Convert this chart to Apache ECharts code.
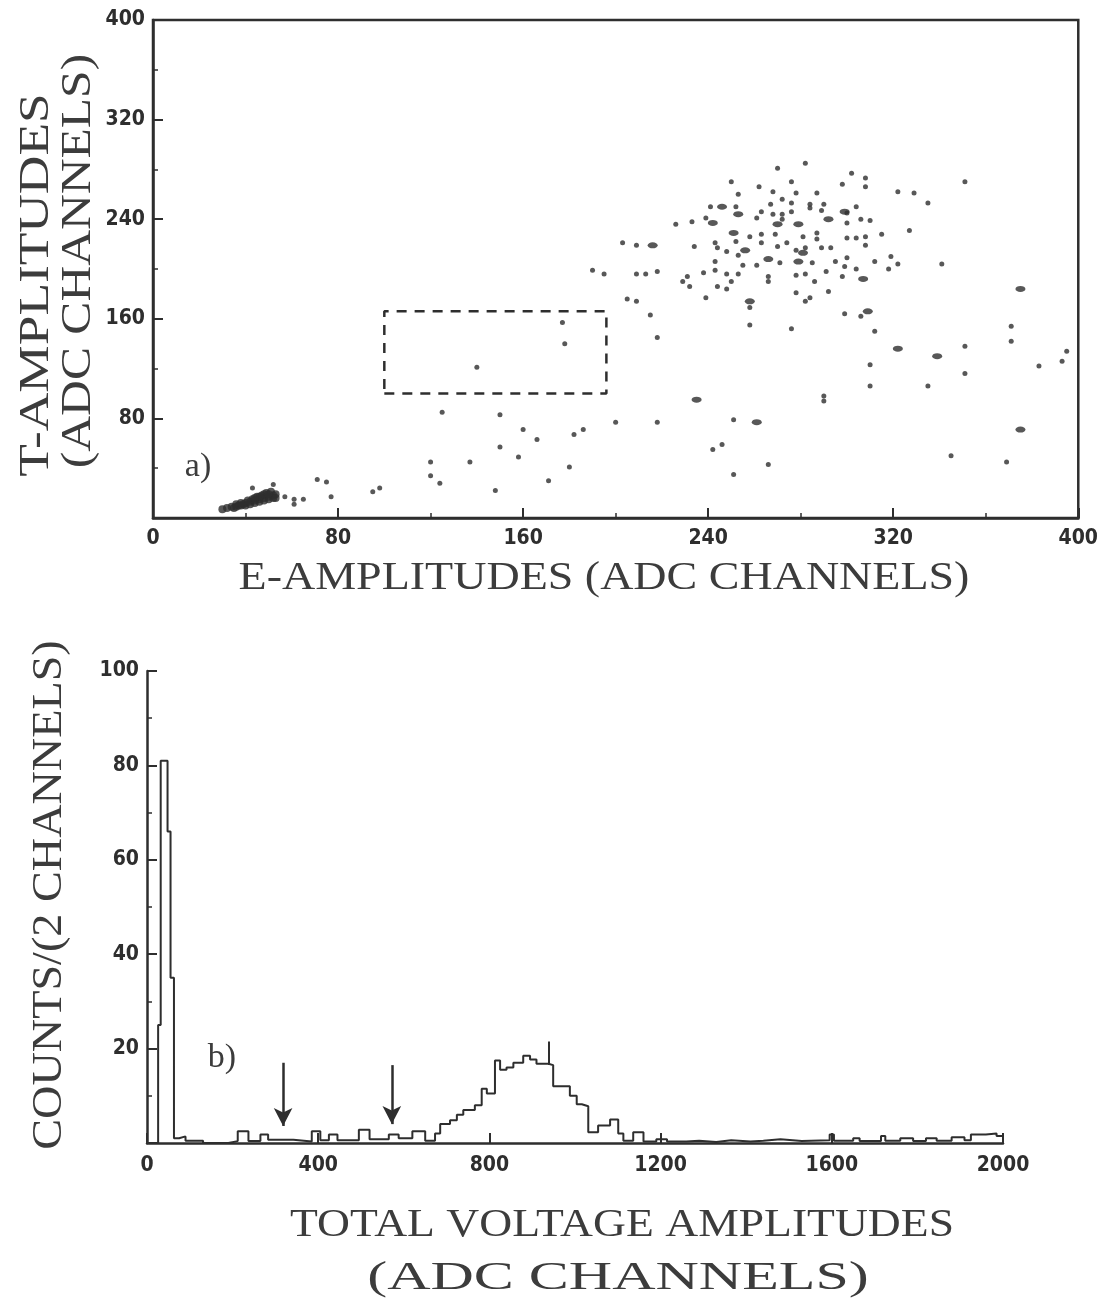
<!DOCTYPE html>
<html>
<head>
<meta charset="utf-8">
<script src="https://cdn.jsdelivr.net/npm/echarts@6/dist/echarts.min.js"></script>
<style>
  html, body { margin: 0; padding: 0; background: #fff; }
  #chart { width: 1101px; height: 1305px; }
</style>
</head>
<body>
<div id="chart"></div>
<script>
// ---- panel a) : E / T amplitude scatter ----
// single events [E, T]
const events = [
  [270,281],[282,285],[250,270],[262,266],[276,270],[302,277],[308,273],[308,266],[298,268],[351,270],
  [253,260],[268,262],[278,261],[287,261],[272,256],[322,262],[329,261],[335,253],[267,252],[276,253],
  [284,252],[290,252],[241,250],[252,250],[304,250],[263,246],[261,241],[268,244],[272,244],
  [272,240],[276,246],[284,249],[289,247],[300,245],[300,237],[306,240],[310,239],
  [239,241],[226,236],[233,238],[258,226],[263,228],[269,228],[263,221],[270,218],
  [274,221],[281,226],[287,229],[287,224],[300,225],[304,225],[308,226],[315,228],[327,231],[234,218],
  [243,221],[244,217],[248,214],[252,222],[253,211],[278,215],[282,217],[289,217],[293,217],
  [308,219],[319,210],[243,206],[255,203],[261,203],[271,205],[285,205],[295,206],
  [299,202],[300,209],[312,206],[322,204],[318,200],[341,204],[304,200],[209,196],[213,196],[218,198],
  [195,196],[190,199],[203,221],[209,219],[231,194],[238,197],[243,199],[248,196],[253,196],[229,190],
  [232,186],[244,186],[248,184],[250,190],[266,194],[266,190],[278,195],[282,196],[286,190],[291,198],
  [298,194],[278,181],[292,182],[284,177],[282,174],[258,169],[239,177],[205,176],
  [209,174],[215,163],[218,145],[258,155],[276,152],[299,164],[306,162],[312,150],
  [371,154],[371,142],[351,138],[351,116],[383,122],[393,126],[395,134],[310,123],
  [310,106],[335,106],[290,98],[290,94],[200,77],[218,77],[251,79],
  [242,55],[246,59],[266,43],[251,35],[345,50],[369,45],
  [177,157],[178,140],[140,121],[125,85],[150,83],[160,71],[166,63],[182,67],[186,71],[150,57],
  [158,49],[137,45],[120,45],[120,34],[124,28],[148,22],[171,30],[180,41],[95,21],[98,24],
  [71,31],[75,29],[77,17],[52,27],[43,24],[57,17],[61,15],[65,15],[61,11]
];

// heavier marks (several overlapping events)
const heavyEvents = [
  [253,244],[279,236],[292,240],[242,237],[251,229],[256,215],[279,206],[266,208],[307,192],
  [309,166],[322,136],[339,130],[375,184],[375,71],[261,77],[235,95],[216,219],[258,174],
  [281,213],[299,246],[270,236],[246,250]
];

// dense group near the origin
const lowCluster = [
  [32,8],[34,9],[36,9],[38,10],[40,10],[40,12],[42,11],[42,13],[44,12],[44,14],[46,13],[46,15],
  [48,14],[48,16],[50,15],[50,17],[52,16],[52,18],[53,19],[47,18],[49,20],[51,21],[45,17],[43,15],
  [39,11],[37,10],[35,8],[53,16],[30,7],[41,14],[36,11],[48,19],[50,19],[46,17],[44,16],[38,12]
];

// dashed window
const windowE = [100, 196, 196, 100, 100];
const windowT = [100, 100, 166, 166, 100];

// ---- panel b) : total voltage histogram ----
const histEdges = [
  0, 26, 32, 48, 55, 63, 75, 90, 131, 190, 212, 237, 265, 283, 342, 385, 405, 425, 445, 495,
  520, 565, 588, 620, 650, 673, 685, 708, 724, 739, 766, 782, 794, 813, 825, 840, 856, 879, 895,
  910, 938, 949, 988, 1004, 1016, 1031, 1054, 1082, 1101, 1113, 1136, 1160, 1190, 1215, 1260,
  1290, 1330, 1365, 1410, 1440, 1480, 1530, 1595, 1605, 1650, 1665, 1715, 1725, 1760, 1790, 1820,
  1845, 1880, 1910, 1925, 1960, 1985
];
const histCounts = [
  0, 25, 81, 66, 35, 1, 1.4, 0.5, 0, 0.4, 2.5, 0.4, 1.8, 0.7, 0.3, 2.5, 0.6, 1.8, 0.6, 2.8,
  0.8, 1.8, 1, 2.5, 0.5, 2, 4, 4.8, 6, 7, 8, 11.5, 10.5, 17.5, 15.5, 16, 17, 18.5, 17.7,
  16.8, 16.5, 12, 10, 8.2, 7.8, 2.3, 3.7, 5, 2, 0.5, 2.3, 0.3, 0.8, 0.3, 0.5,
  0.2, 0.6, 0.3, 0.5, 0.8, 0.4, 0.6, 1.8, 0.5, 1, 0.4, 1.5, 0.5, 1, 0.4, 1,
  0.5, 1.2, 0.6, 1.8, 2, 1.5
];
const errX = [938];
const errLow = [16.5];
const errHigh = [21.5];
const arrowX = [318, 572];
const arrowTop = [17, 16.5];
const arrowTip = [3.6, 4.0];

const ink = '#2e2e2e';
const textInk = '#3c3c3c';
const tickFont = "'Liberation Sans Narrow', 'DejaVu Sans Condensed', 'Roboto Condensed', 'Liberation Sans', sans-serif";
const titleFont = "'Liberation Serif', 'DejaVu Serif', serif";

const histData = histEdges.map((e, i) => [e, histCounts[i]]);
histData.push([2000, histCounts[histCounts.length - 1]]);
histData.push([2000, 0]);

const boxData = windowE.map((e, i) => [e, windowT[i]]);

const arrowLines = arrowX.map((x, i) => [{ coord: [x, arrowTop[i]] }, { coord: [x, arrowTip[i]] }]);
const errLines = errX.map((x, i) => [{ coord: [x, errLow[i]] }, { coord: [x, errHigh[i]] }]);

function axisCommon(min, max, interval, hideZero, margin) {
  return {
    type: 'value',
    min: min, max: max, interval: interval,
    axisLine: { show: true, onZero: false, lineStyle: { color: ink, width: 2.5 } },
    axisTick: { show: true, inside: true, length: 10, lineStyle: { color: ink, width: 2 } },
    minorTick: { show: true, splitNumber: 2, length: 5, lineStyle: { color: ink, width: 1.5 } },
    splitLine: { show: false },
    axisLabel: {
      color: ink, fontFamily: tickFont, fontWeight: 'bold', fontSize: 21, margin: margin,
      formatter: v => (hideZero && v === 0 ? '' : String(v))
    }
  };
}

// title text, stretched along its baseline like the scanned lettering
function title(text, x, y, size, stretch, vertical) {
  return {
    type: 'text', x: x, y: y,
    rotation: vertical ? Math.PI / 2 : 0,
    scaleX: stretch, scaleY: 1,
    style: { text: text, font: size + 'px ' + titleFont, fill: textInk, align: 'center', verticalAlign: 'middle' }
  };
}

const chart = echarts.init(document.getElementById('chart'), null, { renderer: 'canvas' });

const xa = axisCommon(0, 400, 80, false, 10);
xa.gridIndex = 0;
const xb = axisCommon(0, 2000, 400, false, 12);
xb.gridIndex = 1;
xb.minorTick = { show: false };
const ya = axisCommon(0, 400, 80, true, 8);
ya.gridIndex = 0;
const yb = axisCommon(0, 100, 20, true, 8);
yb.gridIndex = 1;

chart.setOption({
  backgroundColor: '#ffffff',
  animation: false,
  grid: [
    { left: 153, top: 20, width: 927, height: 498, show: true, borderColor: ink, borderWidth: 2.5 },
    { left: 147, top: 671, width: 856, height: 472 }
  ],
  xAxis: [xa, xb],
  yAxis: [ya, yb],
  series: [
    {
      type: 'scatter', xAxisIndex: 0, yAxisIndex: 0, data: events,
      symbol: 'circle', symbolSize: 5, itemStyle: { color: ink }, silent: true
    },
    {
      type: 'scatter', xAxisIndex: 0, yAxisIndex: 0, data: heavyEvents,
      symbol: 'circle', symbolSize: [10, 6], itemStyle: { color: ink }, silent: true
    },
    {
      type: 'scatter', xAxisIndex: 0, yAxisIndex: 0, data: lowCluster,
      symbol: 'circle', symbolSize: 8, itemStyle: { color: ink }, silent: true
    },
    {
      type: 'line', xAxisIndex: 0, yAxisIndex: 0, data: boxData, showSymbol: false, silent: true,
      lineStyle: { color: ink, width: 2.5, type: [10, 8] }
    },
    {
      type: 'line', xAxisIndex: 1, yAxisIndex: 1, data: histData, step: 'end',
      showSymbol: false, silent: true,
      lineStyle: { color: ink, width: 2 },
      markLine: {
        silent: true, animation: false,
        symbol: ['none', 'arrow'], symbolSize: [14, 18],
        label: { show: false },
        lineStyle: { color: ink, width: 2.5, type: 'solid' },
        data: arrowLines
      }
    },
    {
      type: 'line', xAxisIndex: 1, yAxisIndex: 1, data: [], silent: true,
      markLine: {
        silent: true, animation: false, symbol: ['none', 'none'],
        label: { show: false },
        lineStyle: { color: ink, width: 2, type: 'solid' },
        data: errLines
      }
    }
  ],
  graphic: [
    title('E-AMPLITUDES (ADC CHANNELS)', 604, 578, 40, 1.15, false),
    title('T-AMPLITUDES', 37, 285, 42, 1.27, true),
    title('(ADC CHANNELS)', 79, 261, 42, 1.18, true),
    title('a)', 198, 467, 34, 1, false),
    title('COUNTS/(2 CHANNELS)', 50, 895, 42, 1.10, true),
    title('b)', 222, 1058, 34, 1, false),
    title('TOTAL VOLTAGE AMPLITUDES', 622, 1225, 40, 1.14, false),
    title('(ADC CHANNELS)', 618, 1278, 40, 1.5, false)
  ]
});
</script>
</body>
</html>
